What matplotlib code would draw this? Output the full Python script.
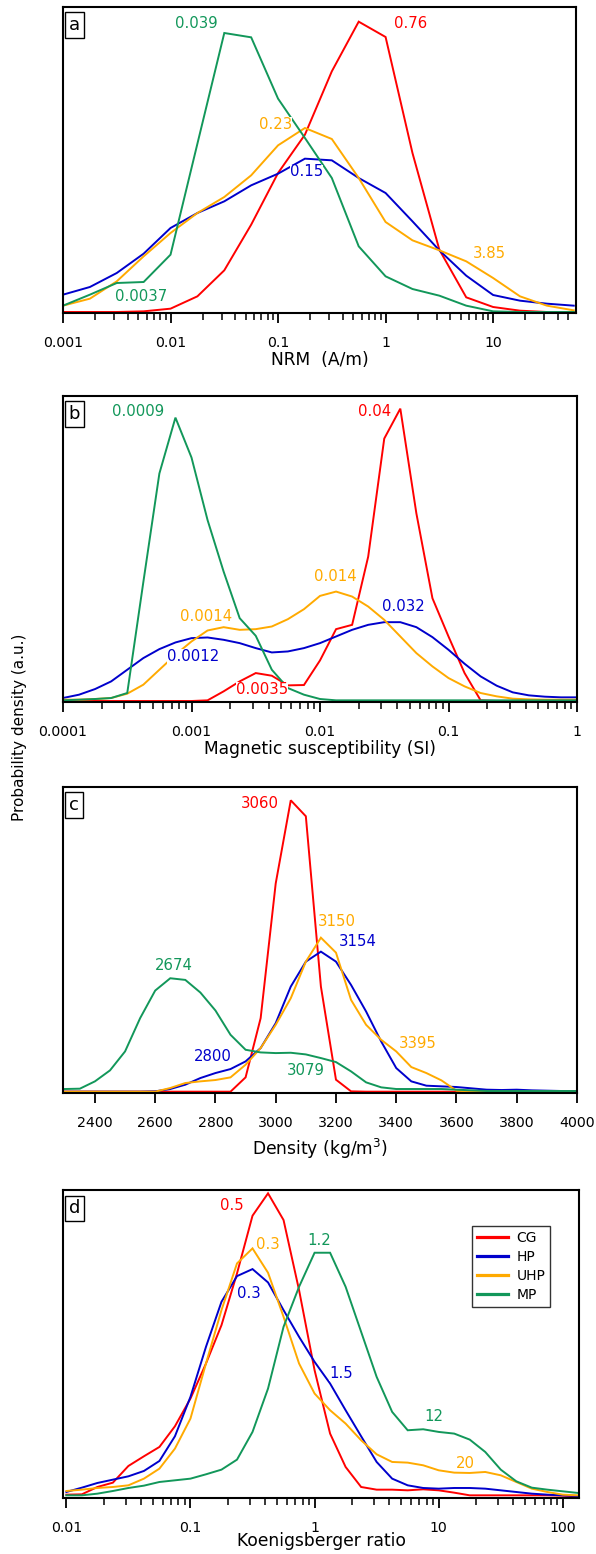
import numpy as np
import matplotlib
matplotlib.use("Agg")
import matplotlib.pyplot as plt
from matplotlib.ticker import LogLocator, NullFormatter, FixedLocator, FixedFormatter

plt.rcParams['font.family'] = ['DejaVu Sans']

RED = '#FF0000'
BLUE = '#0000CC'
ORANGE = '#FFAA00'
GREEN = '#12975A'

series_names = ['CG', 'HP', 'UHP', 'MP']

# ---------------- Panel a: NRM (A/m), quarter-decade samples ----------------
nrm_x = [10 ** (k / 4.0 - 3) for k in range(20)]
nrm_cg = [3, 3, 3, 5, 13, 50, 128, 265, 420, 535, 725, 874, 828, 480, 190, 47, 18, 7, 3, 3]
nrm_hp = [55, 78, 120, 178, 255, 300, 335, 383, 418, 463, 458, 405, 360, 275, 188, 112, 54, 37, 28, 22]
nrm_uhp = [22, 43, 95, 170, 240, 300, 348, 413, 503, 555, 522, 405, 273, 218, 188, 155, 105, 50, 22, 8]
nrm_mp = [22, 55, 90, 93, 175, 508, 840, 827, 643, 525, 405, 200, 110, 72, 52, 22, 5, 3, 3, 3]
nrm_labels = [('0.039', 0.0173, 870, GREEN), ('0.76', 1.72, 870, RED),
              ('0.23', 0.094, 565, ORANGE), ('0.15', 0.184, 423, BLUE),
              ('3.85', 9.25, 178, ORANGE), ('0.0037', 0.0053, 50, GREEN)]
nrm_ticks = [0.001, 0.01, 0.1, 1, 10]
nrm_ticklabels = ['0.001', '0.01', '0.1', '1', '10']

# ---------------- Panel b: susceptibility (SI), eighth-decade samples ----------------
sus_x = [10 ** (k / 8.0 - 4) for k in range(33)]
sus_cg = [3, 3, 3, 3, 3, 3, 3, 3, 3, 5, 32, 62, 87, 79, 50, 51, 125, 219, 232, 437, 792, 882,
          567, 312, 197, 87, 5, 3, 3, 3, 3, 3, 3]
sus_hp = [12, 22, 39, 62, 97, 132, 159, 179, 192, 194, 187, 177, 162, 149, 152, 162, 177, 197,
          217, 232, 240, 240, 225, 195, 157, 115, 77, 49, 29, 20, 16, 14, 14]
sus_uhp = [7, 7, 9, 12, 25, 52, 97, 142, 182, 215, 225, 217, 219, 227, 249, 279, 319, 332, 317,
           287, 247, 197, 147, 107, 72, 47, 27, 17, 10, 8, 7, 7, 7]
sus_mp = [5, 7, 9, 12, 27, 360, 687, 855, 735, 547, 392, 252, 199, 97, 42, 22, 9, 5, 5, 5, 5,
          5, 5, 5, 5, 5, 5, 5, 5, 5, 5, 5, 5]
sus_labels = [('0.0009', 3.81e-4, 872, GREEN), ('0.04', 0.0265, 872, RED),
              ('0.014', 0.01315, 377, ORANGE), ('0.0014', 0.0013, 257, ORANGE),
              ('0.032', 0.0446, 287, BLUE), ('0.0012', 0.00103, 137, BLUE),
              ('0.0035', 0.00353, 37, RED)]
sus_ticks = [0.0001, 0.001, 0.01, 0.1, 1]
sus_ticklabels = ['0.0001', '0.001', '0.01', '0.1', '1']

# ---------------- Panel c: density (kg/m3), 50 kg/m3 samples ----------------
den_x = list(range(2300, 4001, 50))
den_cg = [4, 4, 4, 4, 4, 4, 4, 4, 4, 4, 4, 4, 47, 225, 630, 880, 832, 320, 40, 5,
          4, 4, 4, 4, 4, 4, 4, 4, 4, 4, 4, 4, 4, 4, 4]
den_hp = [4, 4, 4, 4, 4, 4, 5, 12, 25, 45, 60, 72, 95, 135, 210, 320, 395, 425, 395, 325,
          245, 155, 75, 35, 22, 20, 18, 14, 10, 9, 10, 8, 7, 6, 6]
den_uhp = [4, 4, 4, 4, 4, 4, 4, 15, 30, 35, 39, 47, 85, 135, 205, 285, 395, 467, 422, 280,
           205, 160, 125, 78, 60, 38, 7, 4, 4, 4, 4, 4, 4, 4, 4]
den_mp = [12, 13, 35, 68, 125, 225, 308, 345, 340, 302, 248, 175, 130, 122, 120, 121, 116,
          105, 93, 65, 32, 17, 12, 12, 12, 12, 10, 8, 6, 6, 6, 6, 6, 6, 6]
den_labels = [('3060', 2947, 870, RED), ('3150', 3204, 515, ORANGE),
              ('3154', 3271, 455, BLUE), ('2674', 2661, 383, GREEN),
              ('2800', 2791, 110, BLUE), ('3079', 3100, 68, GREEN),
              ('3395', 3470, 150, ORANGE)]
den_ticks = list(range(2400, 4001, 200))
den_ticklabels = [str(t) for t in den_ticks]

# ---------------- Panel d: Koenigsberger ratio, eighth-decade samples ----------------
q_x = [10 ** (k / 8.0 - 2) for k in range(34)]
q_cg = [10, 11, 33, 46, 96, 125, 153, 215, 298, 403, 518, 673, 846, 913, 833, 623, 383, 193,
        93, 33, 25, 25, 23, 26, 23, 16, 8, 8, 8, 8, 8, 8, 7, 5]
q_hp = [18, 31, 45, 55, 65, 81, 111, 185, 303, 453, 588, 665, 686, 646, 563, 483, 408, 343,
        263, 185, 108, 58, 38, 30, 28, 30, 30, 28, 23, 18, 13, 10, 8, 6]
q_uhp = [21, 25, 30, 33, 38, 58, 88, 148, 238, 403, 563, 703, 748, 675, 543, 403, 313, 263,
         223, 173, 131, 108, 106, 98, 83, 76, 75, 78, 68, 48, 28, 18, 10, 8]
q_mp = [8, 8, 13, 21, 30, 37, 48, 53, 58, 71, 85, 115, 198, 328, 513, 633, 735, 735, 633, 498,
        363, 258, 203, 206, 198, 193, 175, 138, 85, 50, 31, 25, 20, 15]
q_labels = [('0.5', 0.217, 878, RED), ('0.3', 0.424, 761, ORANGE), ('1.2', 1.094, 771, GREEN),
            ('0.3', 0.294, 613, BLUE), ('1.5', 1.636, 373, BLUE), ('12', 9.2, 243, GREEN),
            ('20', 16.5, 103, ORANGE)]
q_ticks = [0.01, 0.1, 1, 10, 100]
q_ticklabels = ['0.01', '0.1', '1', '10', '100']

W, H = 596, 1554
fig = plt.figure(figsize=(W / 100, H / 100), dpi=100)


def axes_px(left, top, right, bottom):
    return fig.add_axes([left / W, 1 - bottom / H, (right - left) / W, (bottom - top) / H])


panels = [
    dict(box=(63, 7, 576, 313), x=nrm_x, ys=(nrm_cg, nrm_hp, nrm_uhp, nrm_mp), log=True,
         xlim=(0.001, 59), ylim=(0, 918), labels=nrm_labels, ticks=nrm_ticks,
         ticklabels=nrm_ticklabels, xlabel='NRM  (A/m)', tag='a', lpad=1),
    dict(box=(63, 396, 577, 702), x=sus_x, ys=(sus_cg, sus_hp, sus_uhp, sus_mp), log=True,
         xlim=(0.0001, 1), ylim=(0, 920), labels=sus_labels, ticks=sus_ticks,
         ticklabels=sus_ticklabels, xlabel='Magnetic susceptibility (SI)', tag='b', lpad=1),
    dict(box=(63, 787, 577, 1093), x=den_x, ys=(den_cg, den_hp, den_uhp, den_mp), log=False,
         xlim=(2294, 4000), ylim=(0, 920), labels=den_labels, ticks=den_ticks,
         ticklabels=den_ticklabels, xlabel='Density (kg/m$^{3}$)', tag='c', lpad=5),
    dict(box=(63, 1190, 579, 1498), x=q_x, ys=(q_cg, q_hp, q_uhp, q_mp), log=True,
         xlim=(0.0094, 135), ylim=(0, 923), labels=q_labels, ticks=q_ticks,
         ticklabels=q_ticklabels, xlabel='Koenigsberger ratio', tag='d', lpad=-2),
]

colors = [RED, BLUE, ORANGE, GREEN]
lw = 1.4

for p in panels:
    ax = axes_px(*p['box'])
    for yv, c, name in zip(p['ys'], colors, series_names):
        ax.plot(p['x'], yv, color=c, lw=lw, label=name, solid_joinstyle='miter', zorder=2)
    if p['log']:
        ax.set_xscale('log')
        ax.xaxis.set_minor_locator(LogLocator(base=10, subs=np.arange(2, 10), numticks=50))
        ax.xaxis.set_minor_formatter(NullFormatter())
    ax.set_xlim(*p['xlim'])
    ax.set_ylim(*p['ylim'])
    ax.xaxis.set_major_locator(FixedLocator(p['ticks']))
    ax.xaxis.set_major_formatter(FixedFormatter(p['ticklabels']))
    ax.set_yticks([])
    ax.tick_params(axis='x', which='major', direction='out', length=7.5, width=1.3,
                   labelsize=10.2, pad=9)
    ax.tick_params(axis='x', which='minor', direction='out', length=5, width=1.1)
    for s in ax.spines.values():
        s.set_linewidth(1.5)
    ax.set_xlabel(p['xlabel'], fontsize=12.3, labelpad=p['lpad'])
    for txt, xv, yv, c in p['labels']:
        ax.text(xv, yv, txt, color=c, fontsize=10.7, ha='center', va='center', zorder=3,
                bbox=dict(facecolor='white', edgecolor='none', pad=0.0))
    ax.text(0.022, 0.94, p['tag'], transform=ax.transAxes, fontsize=13, ha='center',
            va='center', zorder=4,
            bbox=dict(boxstyle='square,pad=0.22', facecolor='white', edgecolor='black',
                      linewidth=1.0))
    if p['tag'] == 'd':
        leg = ax.legend(loc='upper left', bbox_to_anchor=(0.793, 0.882), borderaxespad=0,
                        fontsize=10, frameon=True, fancybox=False, edgecolor='black',
                        handlelength=2.2, handletextpad=0.65, labelspacing=0.35,
                        borderpad=0.35)
        leg.get_frame().set_linewidth(1.0)
        for line in leg.get_lines():
            line.set_linewidth(2.3)

fig.text(20 / W, 1 - 727 / H, 'Probability density (a.u.)', rotation=90, fontsize=11,
         ha='center', va='center')

fig.savefig('out.png', dpi=100)
